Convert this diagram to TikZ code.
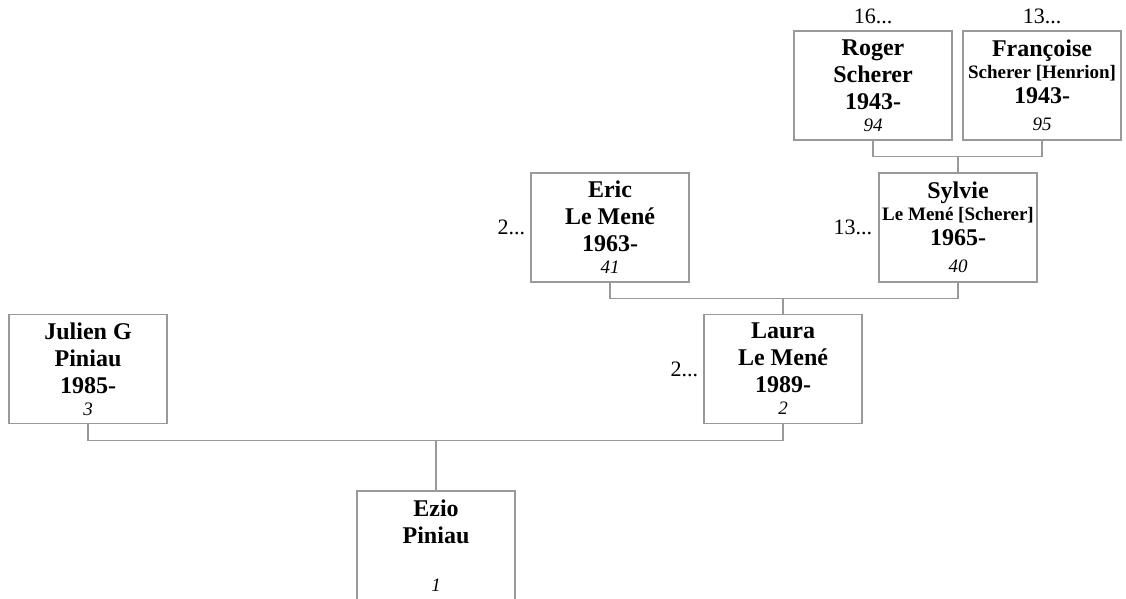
\documentclass[tikz,border=0pt]{standalone}
\usepackage{fontspec}
\setmainfont{Liberation Serif}
\usetikzlibrary{positioning}

\newcommand{\smallline}[1]{{\fontsize{19}{22}\selectfont #1}}
\newcommand{\idnum}[1]{{\mdseries\itshape\fontsize{19}{22}\selectfont #1}}

\begin{document}
\begin{tikzpicture}
[-,x=1pt,y=-1pt,%
  person/.style={draw=gray!80,line width=1.2pt,fill=white,
    minimum width=158pt,minimum height=109pt,inner sep=0pt,align=center,
    font=\bfseries\fontsize{24}{27}\selectfont},%
  more/.style={inner sep=0pt,font=\fontsize{22}{26}\selectfont},%
  link/.style={draw=gray!80,line width=1.2pt}]
\useasboundingbox (0,0) rectangle (1126,599);

\node[person] (ezio) at (436,545.5) {Ezio\\Piniau\\[21pt]\idnum{1}};
\node[person] (julien) at (88,369) {Julien G\\Piniau\\1985-\\[-5pt]\idnum{3}};
\node[person] (laura) at (783,369) {Laura\\Le Mené\\1989-\\[-5pt]\idnum{2}};
\node[person] (eric) at (610,227.5) {Eric\\Le Mené\\1963-\\[-5pt]\idnum{41}};
\node[person] (sylvie) at (958,227.5)
  {Sylvie\\[-5pt]\smallline{Le Mené [Scherer]}\\[-2pt]1965-\\[0pt]\idnum{40}};
\node[person] (roger) at (873,85.5) {Roger\\Scherer\\1943-\\[-5pt]\idnum{94}};
\node[person] (francoise) at (1042,85.5)
  {Françoise\\[-5pt]\smallline{Scherer [Henrion]}\\[-2pt]1943-\\[0pt]\idnum{95}};

\node[more,left=5pt of laura] (lauramore) {2...};
\node[more,left=5pt of eric] (ericmore) {2...};
\node[more,left=6pt of sylvie] (sylviemore) {13...};
\node[more,above=6pt of roger] (rogermore) {16...};
\node[more,above=6pt of francoise] (francoisemore) {13...};

% parents joined above each child
\draw[link] (julien.south) -- ++(0,16) coordinate (jfork) -| (laura.south);
\draw[link] (ezio.north) -- (ezio.north |- jfork);
\draw[link] (eric.south) -- ++(0,16) coordinate (efork) -| (sylvie.south);
\draw[link] (laura.north) -- (laura.north |- efork);
\draw[link] (roger.south) -- ++(0,16) coordinate (rfork) -| (francoise.south);
\draw[link] (sylvie.north) -- (sylvie.north |- rfork);
\end{tikzpicture}
\end{document}
